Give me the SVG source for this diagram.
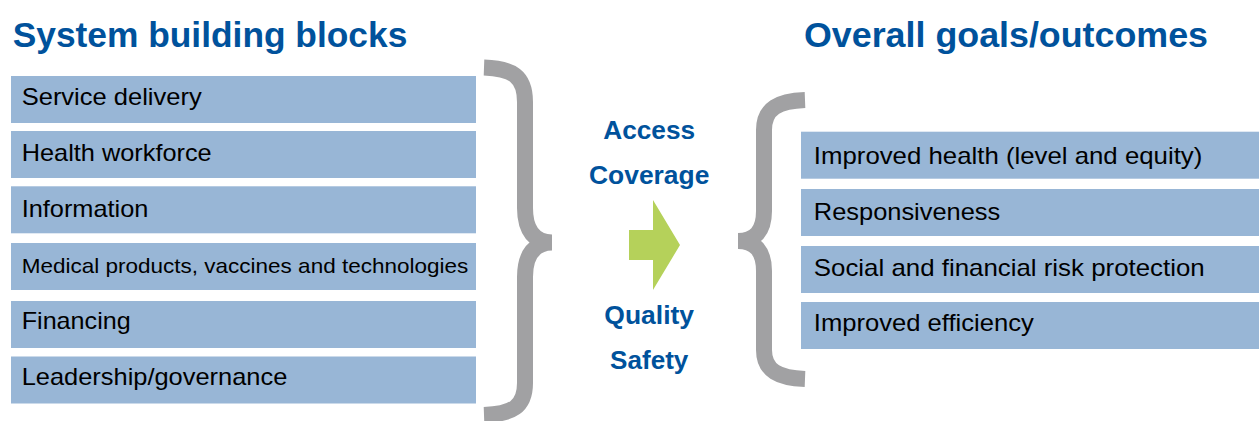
<svg xmlns="http://www.w3.org/2000/svg" width="1259" height="421" viewBox="0 0 1259 421">
<style>
.title{font-family:"Liberation Sans",Arial,sans-serif;font-weight:bold;font-size:35px;fill:#00529C;}
.mid{font-family:"Liberation Sans",Arial,sans-serif;font-weight:bold;font-size:26px;fill:#00529C;text-anchor:middle;}
.box{fill:#98B6D6;}
.lbl{font-family:"Liberation Sans",Arial,sans-serif;font-size:24px;fill:#000;}
.brace{fill:none;stroke:#A1A1A3;stroke-width:16;stroke-linejoin:bevel;stroke-linecap:butt;}
.arrow{fill:#B5D15A;}
</style>
<rect width="1259" height="421" fill="#fff"/>
<g id="titles">
<text class="title" x="12.7" y="46.5" textLength="394.6" lengthAdjust="spacingAndGlyphs">System building blocks</text>
<text class="title" x="804" y="46.5" textLength="404" lengthAdjust="spacingAndGlyphs">Overall goals/outcomes</text>
</g>
<g id="block-service-delivery"><rect class="box" x="11" y="76" width="465" height="47"/><text class="lbl" x="21.7" y="105" textLength="180" lengthAdjust="spacingAndGlyphs">Service delivery</text></g>
<g id="block-health-workforce"><rect class="box" x="11" y="131" width="465" height="47"/><text class="lbl" x="21.7" y="160.5" textLength="190" lengthAdjust="spacingAndGlyphs">Health workforce</text></g>
<g id="block-information"><rect class="box" x="11" y="186.3" width="465" height="47"/><text class="lbl" x="21.7" y="216.5" textLength="126.7" lengthAdjust="spacingAndGlyphs">Information</text></g>
<g id="block-medical-products"><rect class="box" x="11" y="243" width="465" height="47"/><text class="lbl" x="21.7" y="272.5" textLength="446.6" lengthAdjust="spacingAndGlyphs" style="font-size:21px">Medical products, vaccines and technologies</text></g>
<g id="block-financing"><rect class="box" x="11" y="301" width="465" height="47"/><text class="lbl" x="21.7" y="329" textLength="109" lengthAdjust="spacingAndGlyphs">Financing</text></g>
<g id="block-leadership"><rect class="box" x="11" y="356.5" width="465" height="47"/><text class="lbl" x="21.7" y="384.5" textLength="265.6" lengthAdjust="spacingAndGlyphs">Leadership/governance</text></g>
<g id="center-labels">
<text class="mid" x="649.2" y="138.5" textLength="92" lengthAdjust="spacingAndGlyphs">Access</text>
<text class="mid" x="649.2" y="184" textLength="120.3" lengthAdjust="spacingAndGlyphs">Coverage</text>
<text class="mid" x="649.2" y="324" textLength="89.7" lengthAdjust="spacingAndGlyphs">Quality</text>
<text class="mid" x="649.2" y="369" textLength="78.3" lengthAdjust="spacingAndGlyphs">Safety</text>
</g>
<g id="goal-improved-health"><rect class="box" x="801" y="131.7" width="458" height="47"/><text class="lbl" x="813.8" y="163.5" textLength="388.5" lengthAdjust="spacingAndGlyphs">Improved health (level and equity)</text></g>
<g id="goal-responsiveness"><rect class="box" x="801" y="189" width="458" height="47"/><text class="lbl" x="813.8" y="220" textLength="186.5" lengthAdjust="spacingAndGlyphs">Responsiveness</text></g>
<g id="goal-risk-protection"><rect class="box" x="801" y="246" width="458" height="47"/><text class="lbl" x="813.8" y="276" textLength="390.9" lengthAdjust="spacingAndGlyphs">Social and financial risk protection</text></g>
<g id="goal-efficiency"><rect class="box" x="801" y="302" width="458" height="47"/><text class="lbl" x="813.8" y="331" textLength="220" lengthAdjust="spacingAndGlyphs">Improved efficiency</text></g>
<g id="connectors">
<path class="brace" d="M 484 67.5 C 512 68.5 525 76 525 102 L 525 208 C 525 231 535 242.5 552 242.5 C 535 242.5 525 254 525 277 L 525 383 C 525 407 512 414 484 415"/>
<path class="brace" d="M 805 100 C 779 101 764 108 764 130 L 764 211 C 764 231 755 241 738 241 C 755 241 764 251 764 271 L 764 350 C 764 371 779 378 805 379"/>
<polygon class="arrow" points="629,230 653,230 653,200 680,245 653,290 653,260 629,260"/>
</g>
</svg>
